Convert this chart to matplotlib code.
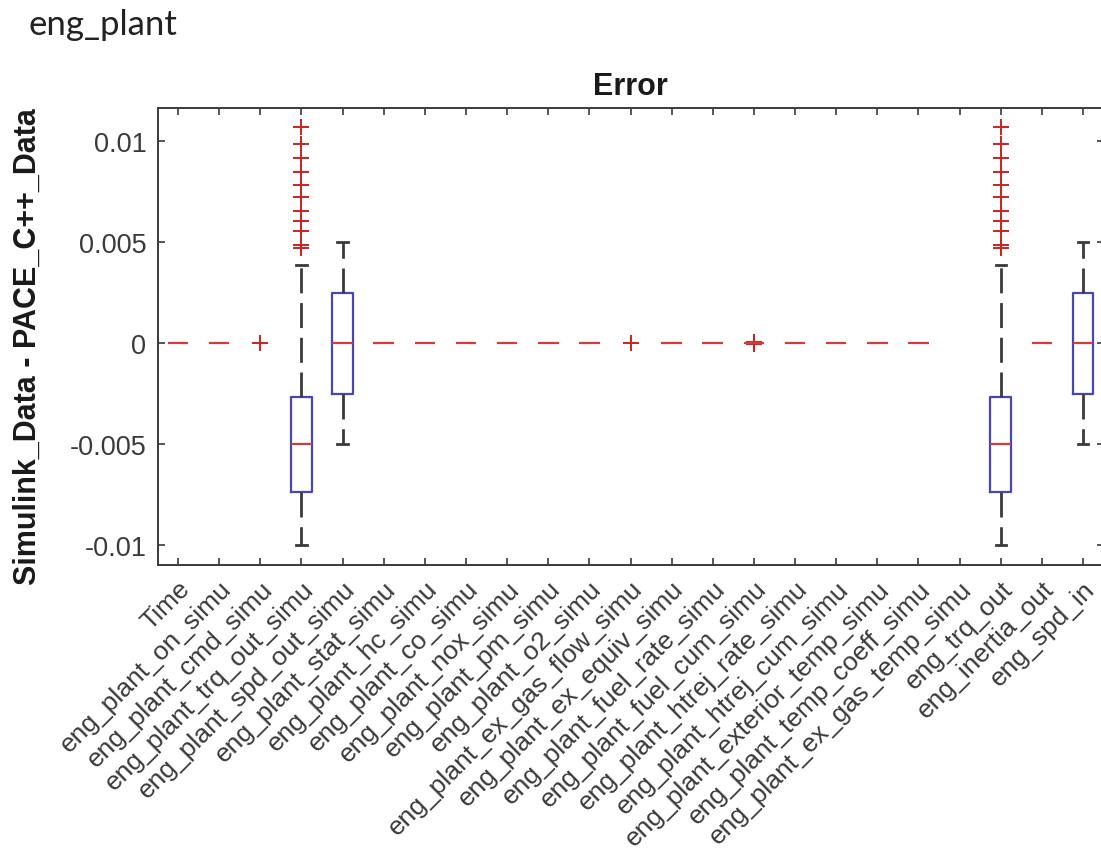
import numpy as np
import matplotlib
matplotlib.use("Agg")
import matplotlib.pyplot as plt
from matplotlib.transforms import ScaledTranslation

plt.rcParams['font.family'] = ['Liberation Sans', 'DejaVu Sans']

categories = ["Time", "eng_plant_on_simu", "eng_plant_cmd_simu", "eng_plant_trq_out_simu",
              "eng_plant_spd_out_simu", "eng_plant_stat_simu", "eng_plant_hc_simu",
              "eng_plant_co_simu", "eng_plant_nox_simu", "eng_plant_pm_simu",
              "eng_plant_o2_simu", "eng_plant_ex_gas_flow_simu", "eng_plant_ex_equiv_simu",
              "eng_plant_fuel_rate_simu", "eng_plant_fuel_cum_simu", "eng_plant_htrej_rate_simu",
              "eng_plant_htrej_cum_simu", "eng_plant_exterior_temp_simu",
              "eng_plant_temp_coeff_simu", "eng_plant_ex_gas_temp_simu",
              "eng_trq_out", "eng_inertia_out", "eng_spd_in"]

nan = np.nan
medians = [0, 0, nan, -0.0050, 0, 0, 0, 0, 0, 0, 0, nan, 0, 0, 0, 0, 0, 0, 0, nan, -0.0050, 0, 0]
q1_vals = [0, 0, nan, -0.00735, -0.0025, 0, 0, 0, 0, 0, 0, nan, 0, 0, 0, 0, 0, 0, 0, nan, -0.00735, 0, -0.0025]
q3_vals = [0, 0, nan, -0.00267, 0.0025, 0, 0, 0, 0, 0, 0, nan, 0, 0, 0, 0, 0, 0, 0, nan, -0.00267, 0, 0.0025]
whisker_lo = [0, 0, nan, -0.0100, -0.0050, 0, 0, 0, 0, 0, 0, nan, 0, 0, 0, 0, 0, 0, 0, nan, -0.0100, 0, -0.0050]
whisker_hi = [0, 0, nan, 0.0039, 0.0050, 0, 0, 0, 0, 0, 0, nan, 0, 0, 0, 0, 0, 0, 0, nan, 0.0039, 0, 0.0050]
trq_outliers = [0.00472, 0.00488, 0.00554, 0.00607, 0.00657, 0.00723, 0.00784,
                0.00850, 0.00916, 0.00987, 0.01069]
outliers = [[], [], [0.0], trq_outliers, [], [], [], [], [], [], [], [0.0], [], [],
            [-0.00006, 0.0, 0.00006], [], [], [], [], [], trq_outliers, [], []]
ytick_vals = [-0.01, -0.005, 0, 0.005, 0.01]
ytick_labels = ["-0.01", "-0.005", "0", "0.005", "0.01"]

W, H = 1101, 854
fig = plt.figure(figsize=(W / 100, H / 100), dpi=100)
ax = fig.add_axes([157.5 / W, 1 - 566 / H, 946 / W, 457 / H])

stats = []
for i, name in enumerate(categories):
    stats.append(dict(label=name, med=medians[i], q1=q1_vals[i], q3=q3_vals[i],
                      whislo=whisker_lo[i], whishi=whisker_hi[i], fliers=outliers[i]))

box_col = '#4646b4'
res = ax.bxp(stats, positions=np.arange(1, len(categories) + 1), widths=0.5,
             capwidths=0.25, showfliers=True,
             boxprops=dict(color=box_col, linewidth=1.6),
             medianprops=dict(color='#d23c3c', linewidth=1.6),
             whiskerprops=dict(color='#3a3a3a', linewidth=2.0, linestyle=(0, (9, 3.5))),
             capprops=dict(color='#3a3a3a', linewidth=2.0),
             flierprops=dict(marker='+', markeredgecolor='#d02020', markersize=12,
                             markeredgewidth=1.4, linestyle='none'))

# collapsed boxes / whiskers (zero spread) are not visible in the reference
for i in range(len(categories)):
    if q1_vals[i] == q3_vals[i]:
        res['boxes'][i].set_visible(False)
    if whisker_lo[i] == whisker_hi[i]:
        res['caps'][2 * i].set_visible(False)
        res['caps'][2 * i + 1].set_visible(False)
        res['whiskers'][2 * i].set_visible(False)
        res['whiskers'][2 * i + 1].set_visible(False)
for med in res['medians']:
    med.set_zorder(3)

ax.set_xlim(0.5, len(categories) + 0.5)
ax.set_ylim(-0.01098, 0.01165)
ax.set_yticks(ytick_vals)
ax.set_yticklabels(ytick_labels, fontsize=19.5, color='#3a3a3a')
ax.set_xticks(np.arange(1, len(categories) + 1))
ax.set_xticklabels(categories, rotation=45, ha='right', va='top',
                   rotation_mode='anchor', fontsize=19, color='#3a3a3a')
offset = ScaledTranslation(8 / 100, -3 / 100, fig.dpi_scale_trans)
for lab in ax.get_xticklabels():
    lab.set_transform(lab.get_transform() + offset)

ax.tick_params(axis='both', direction='in', length=5, width=1.2, color='#3a3a3a',
               top=True, right=True, pad=8)
for sp in ax.spines.values():
    sp.set_color('#3a3a3a')
    sp.set_linewidth(1.4)

ax.set_title("Error", fontsize=22, fontweight='bold', pad=10, color='#1a1a1a')
ax.set_ylabel("Simulink_Data - PACE_C++_Data", fontsize=22, fontweight='bold',
              color='#1a1a1a')
ax.yaxis.set_label_coords(-0.121, 0.48)

fig.text(28 / W, 1 - 35 / H, "eng_plant", fontsize=25, family=['Lato', 'DejaVu Sans'],
         color='#222222', ha='left', va='baseline')

fig.savefig("out.png", dpi=100)
